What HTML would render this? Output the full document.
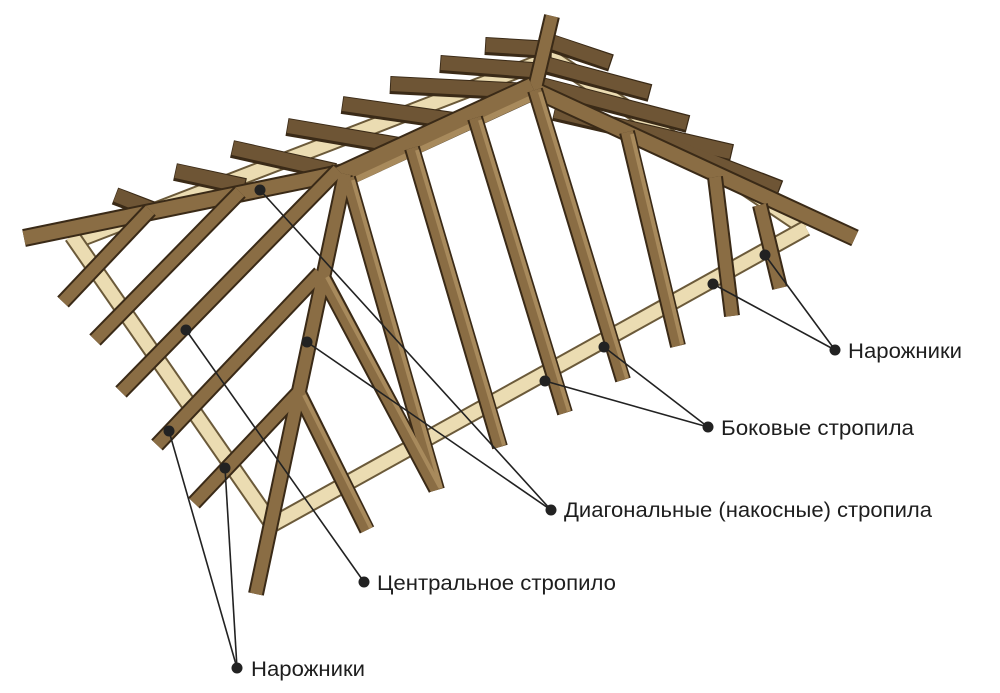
<!DOCTYPE html>
<html><head><meta charset="utf-8"><style>
html,body{margin:0;padding:0;background:#fff;}
svg{display:block}
text{font-family:"Liberation Sans",sans-serif;font-size:21.5px;fill:#1e1e1e}
</style></head><body>
<svg width="1000" height="693" viewBox="0 0 1000 693" xmlns="http://www.w3.org/2000/svg">
<defs>
<style>
.lo{stroke:#6b5a3a;stroke-width:17;stroke-linecap:butt}
.lf{stroke:#ebdcb2;stroke-width:13;stroke-linecap:butt}
.bo{stroke:#3a2a17;stroke-linecap:butt}
.bf{stroke:#8a6d44;stroke-linecap:butt}
.bh{stroke:#a88a5c;stroke-linecap:butt}
.dk{stroke:#6e5535;stroke-linecap:butt}
</style>
</defs>

<g>
<line class="lo" x1="83" y1="238" x2="540" y2="62"/><line class="lf" x1="83" y1="238" x2="540" y2="62"/>
<line class="lo" x1="548" y1="55" x2="805" y2="228"/><line class="lf" x1="548" y1="55" x2="805" y2="228"/>
</g>

<g>
<g stroke-width="18">
<line class="bo" x1="115" y1="196" x2="152" y2="210"/>
<line class="bo" x1="175" y1="172" x2="245" y2="187"/>
<line class="bo" x1="232" y1="149" x2="335" y2="172"/>
<line class="bo" x1="287" y1="127" x2="405" y2="147"/>
<line class="bo" x1="342" y1="105" x2="468" y2="123"/>
<line class="bo" x1="390" y1="85" x2="530" y2="92"/>
<line class="bo" x1="440" y1="64" x2="545" y2="72"/>
<line class="bo" x1="485" y1="46" x2="552" y2="50"/>
<line class="bo" x1="548" y1="42" x2="611" y2="63"/>
<line class="bo" x1="541" y1="64" x2="650" y2="93"/>
<line class="bo" x1="541" y1="86" x2="688" y2="124"/>
<line class="bo" x1="554" y1="112" x2="732" y2="153"/>
<line class="bo" x1="637" y1="134" x2="780" y2="189"/>
</g>
<g stroke-width="14">
<line class="dk" x1="116" y1="195" x2="151" y2="209"/>
<line class="dk" x1="176" y1="171" x2="244" y2="186"/>
<line class="dk" x1="233" y1="148" x2="334" y2="171"/>
<line class="dk" x1="288" y1="126" x2="404" y2="146"/>
<line class="dk" x1="343" y1="104" x2="467" y2="122"/>
<line class="dk" x1="391" y1="84" x2="529" y2="91"/>
<line class="dk" x1="441" y1="63" x2="544" y2="71"/>
<line class="dk" x1="486" y1="45" x2="551" y2="49"/>
<line class="dk" x1="549" y1="41" x2="610" y2="62"/>
<line class="dk" x1="542" y1="63" x2="649" y2="92"/>
<line class="dk" x1="542" y1="85" x2="687" y2="123"/>
<line class="dk" x1="555" y1="111" x2="731" y2="152"/>
<line class="dk" x1="638" y1="133" x2="779" y2="188"/>
</g>
</g>

<line class="lo" x1="72" y1="236" x2="274" y2="527"/><line class="lf" x1="72" y1="236" x2="274" y2="527"/>
<line class="lo" x1="268" y1="527" x2="806" y2="228"/><line class="lf" x1="268" y1="527" x2="806" y2="228"/>

<g>
<line class="bo" stroke-width="16" x1="535" y1="88" x2="552" y2="16"/>
<line class="bo" stroke-width="18" x1="345" y1="172" x2="24" y2="238"/>
<line class="bo" stroke-width="18" x1="530" y1="88" x2="855" y2="238"/>
<line class="bf" stroke-width="12" x1="535" y1="88" x2="552" y2="16"/>
<line class="bf" stroke-width="14" x1="345" y1="172" x2="24" y2="238"/>
<line class="bf" stroke-width="14" x1="530" y1="88" x2="855" y2="238"/>
<line class="bo" stroke-width="24" x1="340" y1="177" x2="533" y2="88"/>
<line class="bf" stroke-width="20" x1="340" y1="177" x2="533" y2="88"/>
<line class="bh" stroke-width="6" x1="344" y1="185" x2="534" y2="97"/>
</g>

<g>
<g stroke-width="16">
<line class="bo" x1="150" y1="210" x2="63" y2="302"/>
<line class="bo" x1="240" y1="192" x2="95" y2="340"/>
<line class="bo" x1="338" y1="170" x2="121" y2="392"/>
<line class="bo" x1="320" y1="273" x2="157" y2="445"/>
<line class="bo" x1="298" y1="393" x2="194" y2="503"/>
<line class="bo" x1="348" y1="178" x2="437" y2="490"/>
<line class="bo" x1="412" y1="148" x2="500" y2="447"/>
<line class="bo" x1="475" y1="118" x2="565" y2="413"/>
<line class="bo" x1="535" y1="90" x2="623" y2="380"/>
<line class="bo" x1="627" y1="132" x2="678" y2="346"/>
<line class="bo" x1="715" y1="177" x2="732" y2="316"/>
<line class="bo" x1="760" y1="205" x2="780" y2="288"/>
<line class="bo" x1="322" y1="275" x2="436" y2="489"/>
<line class="bo" x1="299" y1="393" x2="367" y2="530"/>
<line class="bo" x1="345" y1="174" x2="256" y2="594"/>
</g>
<g stroke-width="12">
<line class="bf" x1="150" y1="210" x2="63" y2="302"/>
<line class="bf" x1="240" y1="192" x2="95" y2="340"/>
<line class="bf" x1="338" y1="170" x2="121" y2="392"/>
<line class="bf" x1="320" y1="273" x2="157" y2="445"/>
<line class="bf" x1="298" y1="393" x2="194" y2="503"/>
<line class="bf" x1="348" y1="178" x2="437" y2="490"/>
<line class="bf" x1="412" y1="148" x2="500" y2="447"/>
<line class="bf" x1="475" y1="118" x2="565" y2="413"/>
<line class="bf" x1="535" y1="90" x2="623" y2="380"/>
<line class="bf" x1="627" y1="132" x2="678" y2="346"/>
<line class="bf" x1="715" y1="177" x2="732" y2="316"/>
<line class="bf" x1="760" y1="205" x2="780" y2="288"/>
<line class="bf" x1="322" y1="275" x2="436" y2="489"/>
<line class="bf" x1="299" y1="393" x2="367" y2="530"/>
<line class="bf" x1="345" y1="174" x2="256" y2="594"/>
</g>
<g stroke-width="4">
<line class="bh" x1="353" y1="180" x2="441" y2="488"/>
<line class="bh" x1="417" y1="150" x2="504" y2="445"/>
<line class="bh" x1="480" y1="120" x2="569" y2="411"/>
<line class="bh" x1="540" y1="92" x2="627" y2="378"/>
<line class="bh" x1="632" y1="134" x2="682" y2="344"/>
<line class="bh" x1="327" y1="277" x2="440" y2="487"/>
<line class="bh" x1="304" y1="395" x2="371" y2="528"/>
</g>
</g>

<g stroke="#222" stroke-width="1.6" fill="none">
<line x1="765" y1="255" x2="835" y2="350"/>
<line x1="713" y1="284" x2="835" y2="350"/>
<line x1="604" y1="347" x2="708" y2="427"/>
<line x1="545" y1="381" x2="708" y2="427"/>
<line x1="260" y1="190" x2="551" y2="510"/>
<line x1="307" y1="342" x2="551" y2="510"/>
<line x1="186" y1="330" x2="364" y2="582"/>
<line x1="169" y1="431" x2="237" y2="668"/>
<line x1="225" y1="468" x2="237" y2="668"/>
</g>
<g fill="#222">
<circle cx="765" cy="255" r="5.5"/><circle cx="713" cy="284" r="5.5"/><circle cx="835" cy="350" r="5.5"/>
<circle cx="604" cy="347" r="5.5"/><circle cx="545" cy="381" r="5.5"/><circle cx="708" cy="427" r="5.5"/>
<circle cx="260" cy="190" r="5.5"/><circle cx="307" cy="342" r="5.5"/><circle cx="551" cy="510" r="5.5"/>
<circle cx="186" cy="330" r="5.5"/><circle cx="364" cy="582" r="5.5"/>
<circle cx="169" cy="431" r="5.5"/><circle cx="225" cy="468" r="5.5"/><circle cx="237" cy="668" r="5.5"/>
</g>
<text x="848" y="358" textLength="114" lengthAdjust="spacingAndGlyphs">Нарожники</text>
<text x="721" y="435" textLength="193" lengthAdjust="spacingAndGlyphs">Боковые стропила</text>
<text x="564" y="517" textLength="368" lengthAdjust="spacingAndGlyphs">Диагональные (накосные) стропила</text>
<text x="377" y="590" textLength="239" lengthAdjust="spacingAndGlyphs">Центральное стропило</text>
<text x="251" y="676" textLength="114" lengthAdjust="spacingAndGlyphs">Нарожники</text>
</svg>
</body></html>
